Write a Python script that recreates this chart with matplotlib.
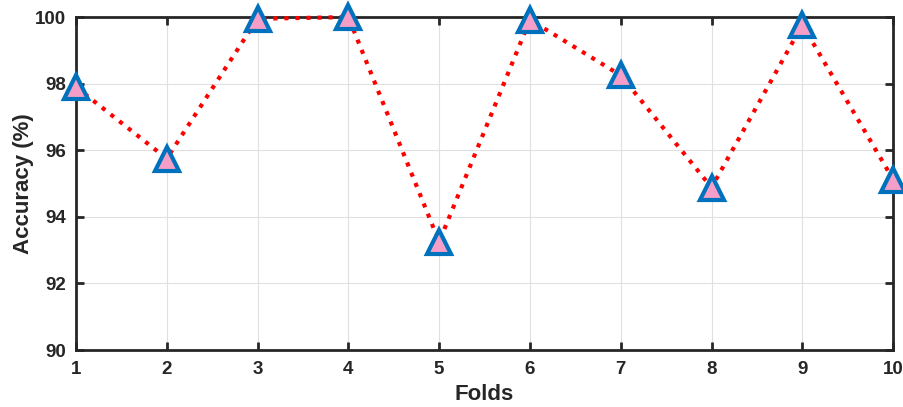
import numpy as np
import matplotlib
matplotlib.use("Agg")
import matplotlib.pyplot as plt

# data
folds = [1, 2, 3, 4, 5, 6, 7, 8, 9, 10]
accuracy = [97.9, 95.75, 99.95, 100.0, 93.25, 99.92, 98.25, 94.88, 99.77, 95.12]
y_ticks = [90, 92, 94, 96, 98, 100]

plt.rcParams['font.family'] = ['Liberation Sans', 'DejaVu Sans']
plt.rcParams['font.weight'] = 'bold'

fig = plt.figure(figsize=(9.04, 4.07), dpi=100)
ax = fig.add_axes([0.084, 0.14, 0.904, 0.818])

ax.plot(folds, accuracy, linestyle=':', color='#ff0000', linewidth=3,
        marker='^', markersize=17, markerfacecolor='#f59fc8',
        markeredgecolor='#0072bd', markeredgewidth=3, clip_on=False, zorder=3)

ax.set_xlim(1, 10)
ax.set_ylim(90, 100)
ax.set_xticks(folds)
ax.set_yticks(y_ticks)
ax.grid(True, color='#e0e0e0', linewidth=0.8)
ax.set_axisbelow(True)

txt = '#262626'
ax.tick_params(direction='in', length=6, width=2, colors=txt, labelsize=13.5,
               top=True, right=True)
ax.tick_params(axis='x', pad=8)
ax.tick_params(axis='y', pad=7)
for lab in ax.get_xticklabels() + ax.get_yticklabels():
    lab.set_fontweight('bold')
for s in ax.spines.values():
    s.set_linewidth(2)
    s.set_color(txt)

ax.set_xlabel('Folds', fontsize=16, fontweight='bold', color=txt, labelpad=4)
ax.set_ylabel('Accuracy (%)', fontsize=16, fontweight='bold', color=txt, labelpad=1)

fig.savefig('out.png', dpi=100)
